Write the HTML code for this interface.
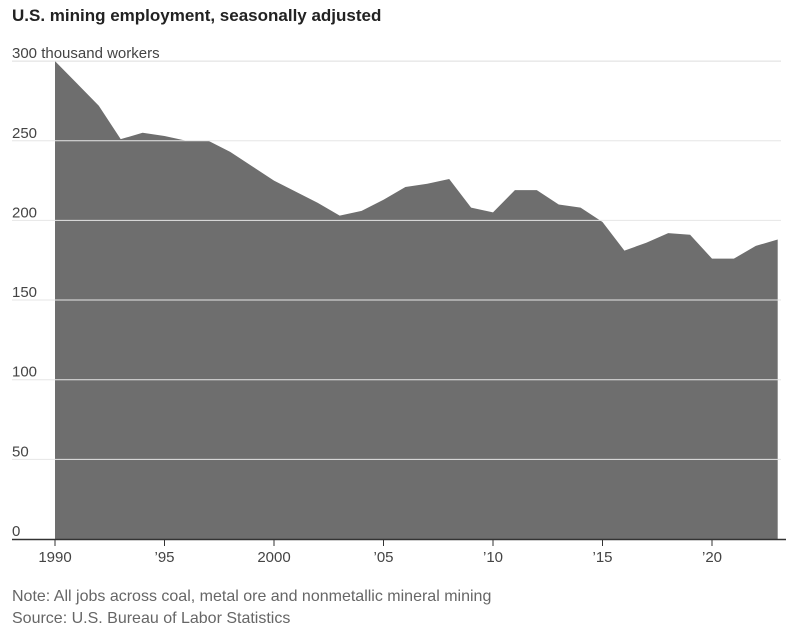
<!DOCTYPE html>
<html><head><meta charset="utf-8"><style>
body{margin:0;background:#fff;font-family:"Liberation Sans",sans-serif;}
svg{display:block}
.n{font-family:"Liberation Sans Narrow","Liberation Sans",sans-serif;}
</style></head><body>
<svg width="794" height="631" id="chart">
<text x="12" y="21" font-size="17" font-weight="bold" fill="#222" class="n">U.S. mining employment, seasonally adjusted</text>
<g id="grid"></g>
<text x="12" y="601" font-size="16" fill="#666" class="n">Note: All jobs across coal, metal ore and nonmetallic mineral mining</text>
<text x="12" y="623" font-size="16" fill="#666" class="n">Source: U.S. Bureau of Labor Statistics</text>
</svg>
<script>
const years=[1990,1991,1992,1993,1994,1995,1996,1997,1998,1999,2000,2001,2002,2003,2004,2005,2006,2007,2008,2009,2010,2011,2012,2013,2014,2015,2016,2017,2018,2019,2020,2021,2022,2023];
const workers=[300,286,272,251,255,253,250,250,243,234,225,218,211,203,206,213,221,223,226,208,205,219,219,210,208,199,181,186,192,191,176,176,184,188];
const yTicks=[0,50,100,150,200,250,300];
const xTicks=[1990,1995,2000,2005,2010,2015,2020];
const xTickLabels=['1990','’95','2000','’05','’10','’15','’20'];
const NS='http://www.w3.org/2000/svg';
const svg=document.getElementById('chart');
const x=v=>55+(v-1990)*21.9;
const y=v=>539-v*1.593;
function mk(t,a,p){const e=document.createElementNS(NS,t);for(const k in a)e.setAttribute(k,a[k]);(p||svg).appendChild(e);return e;}
let d='M'+x(years[0])+','+y(0);
years.forEach((yr,i)=>{d+=' L'+x(yr)+','+y(workers[i]);});
d+=' L'+x(years[years.length-1])+','+y(0)+' Z';
const area=mk('path',{d:d,fill:'#6e6e6e'});


yTicks.forEach(t=>{
  if(t>0){const l=mk('line',{x1:12,x2:781,y1:y(t),y2:y(t),stroke:t===300?'#ddd':'#e6e6e6','stroke-width':1});
  
  }
  const tx=mk('text',{x:12,y:y(t)-3,'font-size':15,fill:'#444','class':'n'});
  tx.textContent=t===300?'300 thousand workers':String(t);
  
  
});
const ax=mk('line',{x1:12,x2:786,y1:539.5,y2:539.5,stroke:'#333','stroke-width':1.5});


xTicks.forEach((t,i)=>{
  const tk=mk('line',{x1:x(t),x2:x(t),y1:539,y2:546,stroke:'#333','stroke-width':1});
  
  
  const tx=mk('text',{x:x(t),y:562,'font-size':15,fill:'#444','text-anchor':'middle','class':'n'});
  tx.textContent=xTickLabels[i];
  
  
});
</script>
</body></html>
